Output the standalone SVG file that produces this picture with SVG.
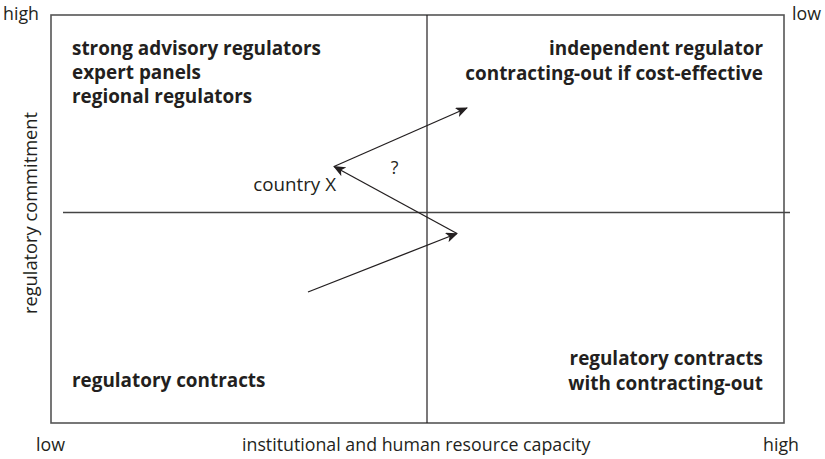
<svg xmlns="http://www.w3.org/2000/svg" width="825" height="459" viewBox="0 0 825 459">
  <style>
    .lbl { font-family: "Open Sans", "Noto Sans", "DejaVu Sans", sans-serif; font-size: 17.8px; fill: #231f20; }
    .cell { font-family: "Open Sans", "Noto Sans", "DejaVu Sans", sans-serif; font-size: 18.9px; font-weight: bold; fill: #231f20; }
    .end { text-anchor: end; }
    .frame { fill: none; stroke: #555; stroke-width: 1.6; }
    .axis { stroke: #231f20; stroke-width: 1.2; fill: none; }
    .hline { stroke: #444; stroke-width: 1.5; fill: none; }
    .arrow { stroke: #231f20; stroke-width: 1.3; fill: none; marker-end: url(#head); }
  </style>
  <defs>
    <marker id="head" viewBox="0 0 12 10" refX="11" refY="5" markerWidth="12" markerHeight="10" markerUnits="userSpaceOnUse" orient="auto">
      <path d="M0,0 L12,5 L0,10 L3,5 Z" fill="#231f20"/>
    </marker>
  </defs>

  <!-- outer frame and quadrant dividers -->
  <g id="frame">
    <rect class="frame" x="51" y="15" width="733" height="408"/>
    <line class="axis" x1="427" y1="15" x2="427" y2="423"/>
    <line class="hline" x1="63" y1="212.5" x2="790" y2="212.5"/>
  </g>

  <!-- axis end labels -->
  <g id="axis-labels">
    <text class="lbl" x="3" y="20">high</text>
    <text class="lbl" x="792" y="20">low</text>
    <text class="lbl" x="36" y="451">low</text>
    <text class="lbl" x="763" y="451">high</text>
    <text class="lbl" x="242" y="451">institutional and human resource capacity</text>
    <text class="lbl" transform="translate(37,213) rotate(-90)" text-anchor="middle" style="font-size:18.3px">regulatory commitment</text>
  </g>

  <g id="quadrant-top-left">
    <text class="cell" x="72" y="55">strong advisory regulators</text>
    <text class="cell" x="72" y="79">expert panels</text>
    <text class="cell" x="72" y="103">regional regulators</text>
  </g>

  <g id="quadrant-top-right">
    <text class="cell end" x="763" y="55">independent regulator</text>
    <text class="cell end" x="763" y="80">contracting-out if cost-effective</text>
  </g>

  <g id="quadrant-bottom-left">
    <text class="cell" x="72" y="387">regulatory contracts</text>
  </g>

  <g id="quadrant-bottom-right">
    <text class="cell end" x="763" y="365">regulatory contracts</text>
    <text class="cell end" x="763" y="390">with contracting-out</text>
  </g>

  <g id="country-x">
    <text class="lbl" x="336" y="191" text-anchor="end" style="font-size:18.8px">country X</text>
    <text class="lbl" x="394.5" y="174" text-anchor="middle">?</text>
  </g>

  <!-- development path of country X -->
  <g id="connectors">
    <line class="arrow" x1="308" y1="292" x2="457" y2="233.5"/>
    <line class="arrow" x1="457" y1="233.5" x2="334" y2="166.5"/>
    <line class="arrow" x1="334" y1="166.5" x2="467" y2="108"/>
  </g>
</svg>
